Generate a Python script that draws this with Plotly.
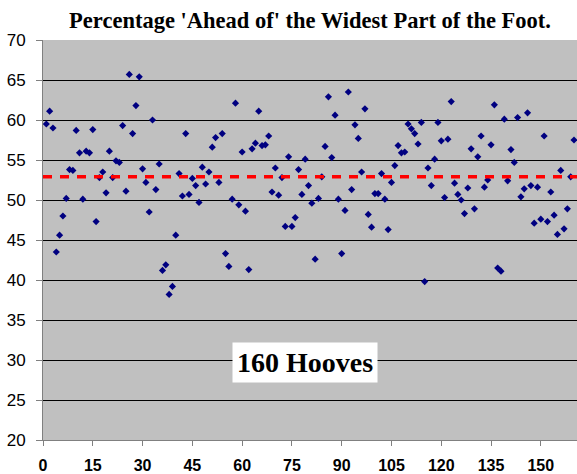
import plotly.graph_objects as go

# Hoof number (x) and percentage ahead of widest part (y)
hoof_index = list(range(1, 161))
pct_ahead = [
    59.5, 61.1, 59.0, 43.5, 45.6, 48.0, 50.2, 53.8, 53.7, 58.7,
    55.9, 50.1, 56.1, 55.9, 58.8, 47.3, 52.8, 53.5, 50.9, 56.1,
    52.8, 54.9, 54.7, 59.3, 51.1, 65.7, 58.3, 61.8, 65.4, 53.9,
    52.2, 48.5, 60.0, 51.3, 54.5, 41.2, 41.9, 38.2, 39.2, 45.6,
    53.3, 50.5, 58.3, 50.7, 52.7, 51.8, 49.7, 54.1, 52.0, 53.5,
    56.6, 57.8, 52.2, 58.3, 43.3, 41.7, 50.1, 62.1, 49.4, 56.0,
    48.6, 41.3, 56.4, 57.1, 61.1, 56.8, 56.9, 58.0, 51.0, 54.0,
    50.6, 52.8, 46.7, 55.4, 46.7, 47.8, 53.8, 50.7, 55.1, 51.8,
    49.6, 42.6, 50.2, 52.9, 56.7, 62.9, 55.3, 60.6, 50.1, 43.3,
    48.7, 63.5, 51.3, 59.4, 57.7, 53.5, 61.4, 48.2, 46.6, 50.8,
    50.8, 53.3, 50.1, 46.3, 52.2, 54.3, 56.8, 55.9, 56.0, 59.5,
    58.9, 58.3, 57.0, 59.7, 39.8, 54.0, 51.8, 55.1, 59.7, 57.4,
    50.3, 57.6, 62.3, 52.1, 50.7, 50.0, 48.3, 51.5, 56.4, 48.9,
    55.4, 58.0, 51.6, 52.5, 56.9, 61.9, 41.5, 41.1, 60.1, 52.4,
    56.3, 54.7, 60.3, 50.4, 51.4, 60.9, 51.8, 47.1, 51.6, 47.6,
    58.0, 47.3, 51.0, 48.1, 45.7, 53.7, 46.4, 48.9, 52.9, 57.5,
]
mean_pct = 52.9
mean_x = [0, 160.9]

x_ticks = [0, 15, 30, 45, 60, 75, 90, 105, 120, 135, 150]
y_ticks = [20, 25, 30, 35, 40, 45, 50, 55, 60, 65, 70]

title_text = "Percentage 'Ahead of' the Widest Part of the Foot."
box_text = "160 Hooves"

SERIF = "Liberation Serif, Times New Roman, serif"
SANS = "Liberation Sans, Arial, sans-serif"

fig = go.Figure()
fig.add_trace(go.Scatter(
    x=hoof_index, y=pct_ahead, mode="markers",
    marker=dict(symbol="diamond", size=5.5, color="#000080",
                line=dict(width=0)),
    showlegend=False, hoverinfo="x+y",
))
fig.add_trace(go.Scatter(
    x=mean_x, y=[mean_pct, mean_pct], mode="lines",
    line=dict(color="#FF0000", width=3.5, dash="9px,8px"),
    showlegend=False, hoverinfo="skip",
))

fig.add_annotation(
    x=78.9, y=29.7, xref="x", yref="y", text=box_text, showarrow=False,
    font=dict(family=SERIF, size=28, color="black", weight="bold"),
    bgcolor="white", borderpad=4,
)

fig.update_layout(
    width=577, height=474,
    margin=dict(l=43, r=0, t=40, b=34),
    paper_bgcolor="white", plot_bgcolor="#C0C0C0",
    title=dict(text=title_text, x=0.5, xref="paper", xanchor="center",
               y=1 - 20 / 474, yref="container", yanchor="middle",
               font=dict(family=SERIF, size=22.5, color="black", weight="bold")),
)
fig.update_xaxes(
    range=[0, 160.9], tickvals=x_ticks, showgrid=False, zeroline=False,
    showline=True, linecolor="#808080", linewidth=1,
    ticks="outside", ticklen=5, tickcolor="#808080",
    tickfont=dict(family=SANS, size=16, color="black", weight="bold"),
    ticklabelstandoff=6,
)
fig.update_yaxes(
    range=[20, 70], tickvals=y_ticks, showgrid=True, gridcolor="black",
    gridwidth=1, zeroline=False,
    showline=True, linecolor="#808080", linewidth=1,
    ticks="outside", ticklen=6, tickcolor="#808080",
    tickfont=dict(family=SANS, size=17, color="black"),
    ticklabelstandoff=7,
)

fig.write_html(
    "out.html",
    config={"displayModeBar": False},
    post_script="document.body.style.margin='0';document.body.style.overflow='hidden';",
)
